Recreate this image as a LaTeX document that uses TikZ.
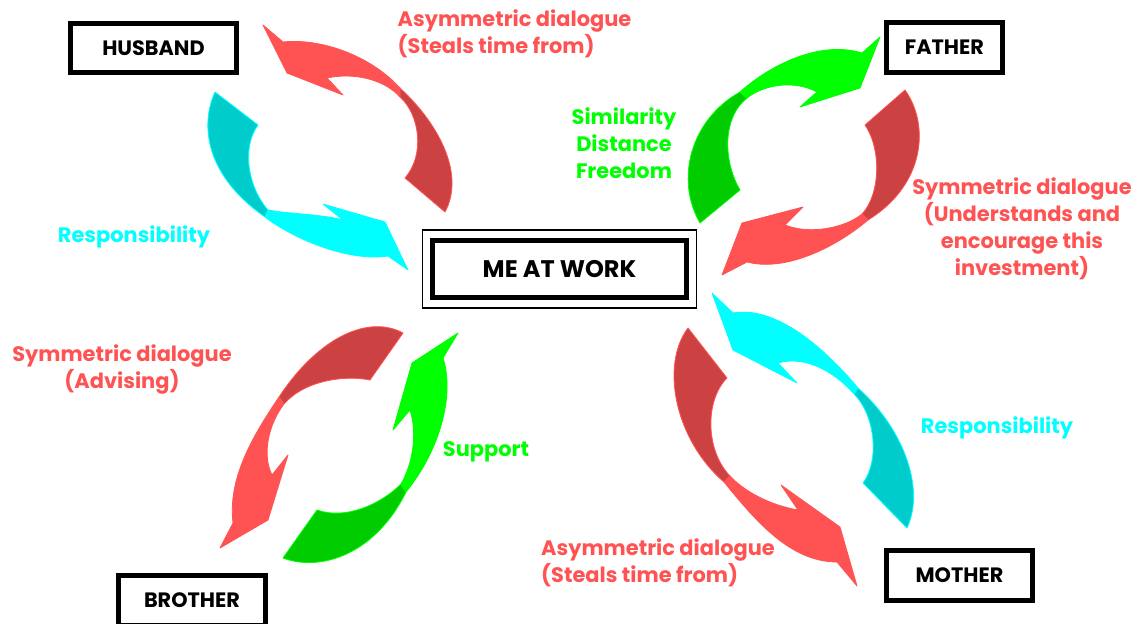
\documentclass[tikz,border=0pt]{standalone}
\usepackage{fontspec}
\setmainfont{Poppins}
\definecolor{redL}{RGB}{255,83,83}
\definecolor{redD}{RGB}{204,65,65}
\definecolor{cyanL}{RGB}{0,255,255}
\definecolor{cyanD}{RGB}{0,204,204}
\definecolor{greenL}{RGB}{0,255,0}
\definecolor{greenD}{RGB}{0,204,0}
\begin{document}
\begin{tikzpicture}[x=0.75pt,y=-0.75pt,
  lbl/.style={font=\fontsize{15.7}{20.25}\selectfont\bfseries, inner sep=0pt},
  person/.style={draw=black, line width=3.75pt, fill=white, inner sep=0pt,
    font=\fontsize{15.6}{18}\selectfont\bfseries},
  redfront/.style={fill=redL, draw=redL, line width=0.6pt, line join=round},
  redback/.style={fill=redD, draw=redL, line width=0.6pt, line join=round},
  cyanfront/.style={fill=cyanL, draw=cyanL, line width=0.6pt, line join=round},
  cyanback/.style={fill=cyanD, draw=cyanL, line width=0.6pt, line join=round},
  greenfront/.style={fill=greenL, draw=greenL, line width=0.6pt, line join=round},
  greenback/.style={fill=greenD, draw=greenL, line width=0.6pt, line join=round}]
\useasboundingbox[fill=white] (0,0) rectangle (1140,624);

% ---- people ----
\node[person, minimum width=124.5pt, minimum height=36.75pt] (husband) at (153.5,48) {HUSBAND};
\node[person, minimum width=87pt, minimum height=37.5pt] (father) at (944.5,47.5) {FATHER};
\node[person, minimum width=109.5pt, minimum height=37.5pt] (mother) at (959.5,575.5) {MOTHER};
\node[person, minimum width=110.25pt, minimum height=37.5pt] (brother) at (192,600.5) {BROTHER};
\node[person, minimum width=190pt, minimum height=43pt, font=\fontsize{18}{20}\selectfont\bfseries] (me) at (559.5,269) {ME AT WORK};
\draw[line width=1.1pt] ([shift={(-8,-8)}]me.north west) rectangle ([shift={(8,8)}]me.south east);

% ---- husband loop ----
\filldraw[redback] (400,88) .. controls (440,125) and (465,175) .. (445,212) -- (405,178)
  .. controls (425,155) and (420,115) .. (400,97) -- cycle;
\filldraw[redfront] (263,25) -- (283,42) .. controls (320,38) and (370,55) .. (400,88) -- (400,97)
  .. controls (385,80) and (355,72) .. (327,78) -- (343,95) -- (287,73) -- cycle;
\filldraw[cyanback] (265,217) .. controls (205,175) and (200,125) .. (215,92) -- (258,125)
  .. controls (240,150) and (250,190) .. (268,210) -- cycle;
\filldraw[cyanfront] (408,270) -- (388,256) .. controls (350,262) and (295,240) .. (265,217) -- (268,210)
  .. controls (290,214) and (320,214) .. (343,220) -- (323,204) -- (385,222) -- cycle;

% ---- father loop ----
\filldraw[greenback] (740,92) .. controls (690,120) and (675,180) .. (700,223) -- (740,190)
  .. controls (725,165) and (720,120) .. (747,98) -- cycle;
\filldraw[greenfront] (880,37) -- (862,53) .. controls (820,40) and (770,65) .. (740,92) -- (747,98)
  .. controls (765,84) and (795,80) .. (817,92) -- (800,107) -- (860,88) -- cycle;
\filldraw[redback] (868,220) .. controls (925,185) and (930,125) .. (905,90) -- (865,125)
  .. controls (882,150) and (880,195) .. (862,214) -- cycle;
\filldraw[redfront] (722,275) -- (747,262) .. controls (785,272) and (835,248) .. (868,220) -- (862,214)
  .. controls (845,228) and (810,235) .. (785,225) -- (803,207) -- (742,223) -- cycle;

% ---- brother loop ----
\filldraw[redback] (279,397) .. controls (320,335) and (370,315) .. (403,333) -- (370,380)
  .. controls (345,375) and (305,380) .. (284,404) -- cycle;
\filldraw[redfront] (220,548) -- (233,523) .. controls (228,480) and (250,440) .. (279,397) -- (284,404)
  .. controls (268,425) and (262,455) .. (272,475) -- (288,455) -- (268,520) -- cycle;
\filldraw[greenback] (406,492) .. controls (375,555) and (320,572) .. (283,558) -- (317,510)
  .. controls (345,520) and (380,505) .. (401,484) -- cycle;
\filldraw[greenfront] (458,333) -- (443,358) .. controls (455,395) and (440,450) .. (406,492) -- (401,484)
  .. controls (412,465) and (418,435) .. (410,410) -- (393,430) -- (412,363) -- cycle;

% ---- mother loop ----
\filldraw[cyanback] (858,388) .. controls (905,430) and (925,490) .. (907,528) -- (863,483)
  .. controls (880,460) and (875,415) .. (854,394) -- cycle;
\filldraw[cyanfront] (712,293) -- (733,313) .. controls (780,305) and (830,355) .. (858,388) -- (854,394)
  .. controls (835,372) and (805,355) .. (778,363) -- (797,383) -- (733,350) -- cycle;
\filldraw[redback] (724,482) .. controls (675,440) and (660,365) .. (688,328) -- (727,378)
  .. controls (705,400) and (705,450) .. (730,476) -- cycle;
\filldraw[redfront] (857,586) -- (837,562) .. controls (790,562) and (755,520) .. (724,482) -- (730,476)
  .. controls (745,492) and (770,505) .. (798,510) -- (781,485) -- (840,527) -- cycle;

% ---- labels ----
\node[lbl, text=redL, align=left] (l1) at (514.5,33.5) {Asymmetric dialogue\\(Steals time from)};
\node[lbl, text=greenL, align=center] (l2) at (624,143) {Similarity\\Distance\\Freedom};
\node[lbl, text=redL, align=center] (l3) at (1022,229) {Symmetric dialogue\\(Understands and\\encourage this\\investment)};
\node[lbl, text=cyanL] (l4) at (134,237) {Responsibility};
\node[lbl, text=redL, align=center] (l5) at (122,369.5) {Symmetric dialogue\\(Advising)};
\node[lbl, text=greenL] (l6) at (486,452) {Support};
\node[lbl, text=cyanL] (l7) at (997,428) {Responsibility};
\node[lbl, text=redL, align=left] (l8) at (658,562.5) {Asymmetric dialogue\\(Steals time from)};
\end{tikzpicture}
\end{document}
